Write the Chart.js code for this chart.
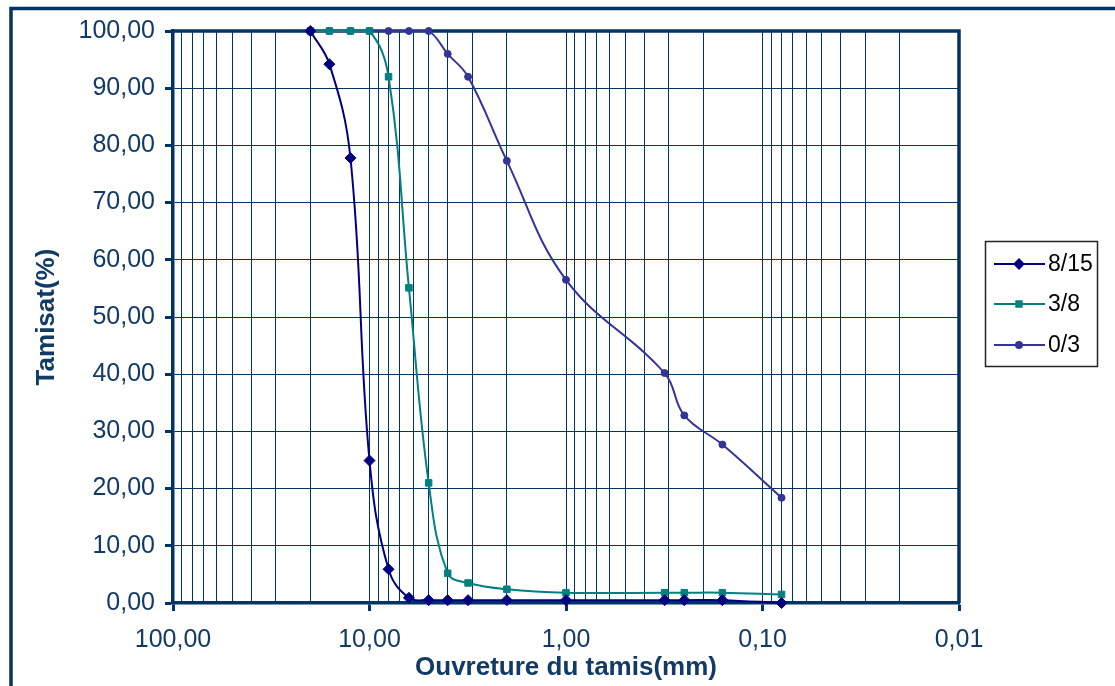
<!DOCTYPE html>
<html><head><meta charset="utf-8">
<script src="https://cdn.jsdelivr.net/npm/chart.js@4.4.0/dist/chart.umd.min.js"></script>
<style>html,body{margin:0;padding:0;background:#fff;overflow:hidden}#wrap{width:1115px;height:686px;position:relative}</style>
</head><body><div id="wrap"><canvas id="c" width="1115" height="686"></canvas></div>
<script>
// ---- data ----
const sieves = [20, 16, 12.5, 10, 8, 6.3, 5, 4, 3.15, 2, 1, 0.315, 0.25, 0.16, 0.08];
const s815 = [100, 94.2, 77.8, 24.9, 5.9, 0.9, 0.5, 0.5, 0.5, 0.5, 0.5, 0.5, 0.5, 0.5, 0];
const s38  = [100, 100, 100, 100, 92.0, 55.1, 21.0, 5.2, 3.5, 2.4, 1.8, 1.8, 1.8, 1.8, 1.5];
const s03  = [100, 100, 100, 100, 100, 100, 100, 96.0, 92.0, 77.3, 56.5, 40.2, 32.8, 27.7, 18.4];
const seriesNames = ['8/15', '3/8', '0/3'];
const xTickValues = [100, 10, 1, 0.1, 0.01];
const xTickLabels = ['100,00', '10,00', '1,00', '0,10', '0,01'];
const yTickValues = [0, 10, 20, 30, 40, 50, 60, 70, 80, 90, 100];
const yTickLabels = ['0,00', '10,00', '20,00', '30,00', '40,00', '50,00', '60,00', '70,00', '80,00', '90,00', '100,00'];
const xTitle = 'Ouvreture du tamis(mm)';
const yTitle = 'Tamisat(%)';

// log grid positions (1..9 x each decade)
const xGridValues = [];
[0.01, 0.1, 1, 10].forEach(d => { for (let k = 1; k <= 9; k++) xGridValues.push(+(k * d).toPrecision(6)); });
xGridValues.push(100);

const NAVY = '#003366';
const TXT = '#123a66';
const FONT = "'Liberation Sans', Arial, sans-serif";
const isDecade = v => xTickValues.some(t => Math.abs(t - v) / t < 1e-6);

const styles = [
  {color: '#000080', pointStyle: 'rectRot', r: 5.5, lr: 4.5},
  {color: '#008080', pointStyle: 'rect', r: 4.6, lr: 3.8},
  {color: '#333399', pointStyle: 'circle', r: 3.5, lr: 3}
];
const series = [s815, s38, s03];

const datasets = series.map((vals, i) => ({
  label: seriesNames[i],
  data: sieves.map((x, j) => ({x: x, y: vals[j]})),
  borderColor: styles[i].color,
  backgroundColor: styles[i].color,
  pointBackgroundColor: styles[i].color,
  pointBorderColor: styles[i].color,
  pointStyle: styles[i].pointStyle,
  pointRadius: styles[i].r,
  pointBorderWidth: 1,
  borderWidth: 2,
  tension: 0.4,
  clip: false,
  fill: false
}));

const framePlugin = {
  id: 'frame',
  beforeDraw(chart) {
    const c = chart.ctx;
    c.save();
    c.fillStyle = '#fff';
    c.fillRect(0, 0, chart.width, chart.height);
    c.strokeStyle = NAVY;
    c.lineWidth = 3.5;
    c.beginPath();
    c.moveTo(11, 700); c.lineTo(11, 8.5); c.lineTo(1130, 8.5);
    c.stroke();
    c.restore();
  },
  beforeDatasetsDraw(chart) {
    const a = chart.chartArea, c = chart.ctx;
    c.save();
    c.strokeStyle = NAVY;
    c.lineWidth = 3.5;
    c.beginPath();
    c.moveTo(a.left, a.top); c.lineTo(a.right, a.top); c.lineTo(a.right, a.bottom);
    c.stroke();
    c.restore();
  }
};

const legendPlugin = {
  id: 'customLegend',
  afterDraw(chart) {
    const c = chart.ctx;
    c.save();
    c.strokeStyle = '#222';
    c.lineWidth = 1.5;
    c.strokeRect(985.5, 241.5, 112, 125);
    const ys = [264, 304, 345];
    ys.forEach((y, i) => {
      const st = styles[i];
      c.strokeStyle = st.color;
      c.lineWidth = 2;
      c.beginPath(); c.moveTo(994, y); c.lineTo(1045, y); c.stroke();
      c.fillStyle = st.color;
      Chart.helpers.drawPoint(c, {pointStyle: st.pointStyle, radius: st.lr, borderWidth: 1}, 1019, y);
      c.fill();
      c.fillStyle = '#000';
      c.font = '23px ' + FONT;
      c.textAlign = 'left';
      c.textBaseline = 'middle';
      c.fillText(seriesNames[i], 1048, y + 1);
    });
    c.restore();
  }
};

new Chart(document.getElementById('c'), {
  type: 'line',
  data: {datasets},
  options: {
    responsive: false,
    animation: false,
    devicePixelRatio: 1,
    layout: {padding: {left: 14, top: 31, right: 156, bottom: 0}},
    plugins: {legend: {display: false}, tooltip: {enabled: false}},
    elements: {line: {capBezierPoints: true}},
    scales: {
      x: {
        type: 'logarithmic',
        reverse: true,
        min: 0.01, max: 100,
        afterBuildTicks(s) { s.ticks = xGridValues.map(v => ({value: v})); },
        afterFit(s) { s.height = 83; },
        ticks: {
          autoSkip: false, maxRotation: 0, minRotation: 0, padding: 14,
          color: TXT, font: {family: FONT, size: 25},
          callback(v) { const i = xTickValues.findIndex(t => Math.abs(t - v) / t < 1e-6); return i >= 0 ? xTickLabels[i] : ''; }
        },
        grid: {
          color: NAVY, lineWidth: 1, tickLength: 8, tickWidth: 3,
          tickColor: (ctx) => (ctx.tick && isDecade(ctx.tick.value)) ? NAVY : 'rgba(0,0,0,0)'
        },
        border: {color: NAVY, width: 3.5},
        title: {display: true, text: xTitle, color: TXT, font: {family: FONT, size: 26, weight: 'bold', lineHeight: 1}, padding: {top: 0, bottom: 5}}
      },
      y: {
        min: 0, max: 100,
        afterBuildTicks(s) { s.ticks = yTickValues.map(v => ({value: v})); },
        afterFit(s) { s.width = 159; },
        ticks: {
          padding: 10, color: TXT, font: {family: FONT, size: 25},
          callback(v) { const i = yTickValues.indexOf(v); return i >= 0 ? yTickLabels[i] : ''; }
        },
        grid: {color: NAVY, lineWidth: 1, tickLength: 8, tickWidth: 3, tickColor: NAVY},
        border: {color: NAVY, width: 3.5},
        title: {display: true, text: yTitle, color: TXT, font: {family: FONT, size: 26, weight: 'bold', lineHeight: 1}, padding: {top: 20, bottom: 0}}
      }
    }
  },
  plugins: [framePlugin, legendPlugin]
});
</script>
</body></html>
